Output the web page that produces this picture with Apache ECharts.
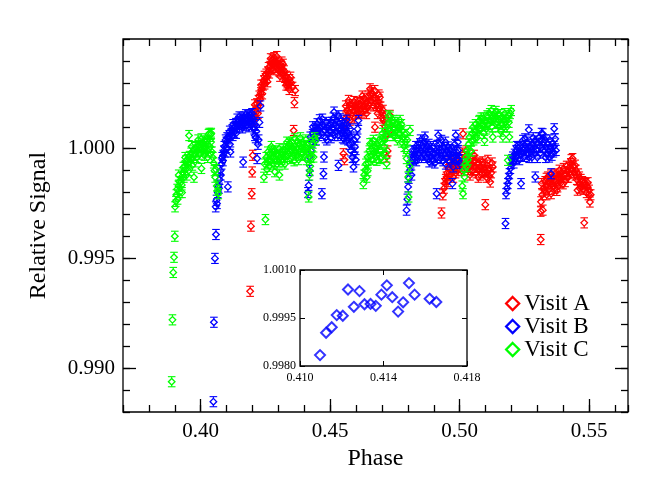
<!DOCTYPE html>
<html>
<head>
<meta charset="utf-8">
<title>Relative Signal vs Phase</title>
<script src="https://cdn.jsdelivr.net/npm/echarts@6/dist/echarts.min.js"></script>
<style>
html, body { margin: 0; padding: 0; background: #fff; }
#chart { width: 665px; height: 490px; }
</style>
</head>
<body>
<div id="chart"></div>
<script>
// Visit A (red) - [phase, relative signal]
const visitA = [
  [0.4191,0.99350],[0.4194,0.99647],[0.4197,0.99795],[0.4199,0.99894],[0.4201,0.99970],
  [0.4205,1.00130],[0.4208,1.00155],[0.4211,1.00175],[0.4214,1.00165],[0.4217,1.00205],[0.4220,1.00190],[0.4223,1.00220],[0.4226,1.00240],[0.4229,1.00225],[0.4232,1.00255],[0.4235,1.00270],[0.4238,1.00250],[0.4241,1.00290],[0.4244,1.00310],[0.4247,1.00295],[0.4250,1.00320],[0.4253,1.00340],[0.4256,1.00325],[0.4259,1.00350],[0.4262,1.00370],[0.4265,1.00345],[0.4268,1.00375],[0.4271,1.00390],[0.4274,1.00365],[0.4277,1.00405],[0.4280,1.00385],[0.4283,1.00415],[0.4286,1.00400],[0.4289,1.00380],[0.4292,1.00395],[0.4295,1.00370],[0.4298,1.00390],[0.4301,1.00355],[0.4304,1.00375],[0.4307,1.00350],[0.4310,1.00380],[0.4313,1.00395],[0.4316,1.00360],[0.4319,1.00340],[0.4322,1.00355],[0.4325,1.00325],[0.4328,1.00310],[0.4331,1.00330],[0.4334,1.00300],[0.4337,1.00290],[0.4340,1.00295],[0.4343,1.00315],[0.4347,1.00326],[0.4350,1.00300],[0.4355,1.00280],[0.4359,1.00083],[0.4362,1.00210],[0.4365,1.00265],
  [0.4209,1.00200],[0.4221,1.00160],[0.4233,1.00290],[0.4246,1.00330],[0.4258,1.00305],[0.4270,1.00410],[0.4282,1.00360],[0.4294,1.00420],[0.4306,1.00330],[0.4318,1.00385],[0.4330,1.00290],[0.4342,1.00270],
  [0.4551,0.99977],[0.4555,0.99950],[0.4558,1.00110],[0.4561,1.00140],[0.4564,1.00174],[0.4567,1.00150],[0.4571,1.00220],[0.4574,1.00165],[0.4577,1.00130],[0.4580,1.00185],[0.4583,1.00155],[0.4586,1.00200],[0.4590,1.00174],[0.4593,1.00140],[0.4596,1.00195],[0.4599,1.00160],[0.4602,1.00185],[0.4605,1.00210],[0.4609,1.00190],[0.4612,1.00160],[0.4615,1.00205],[0.4618,1.00180],[0.4622,1.00167],[0.4625,1.00215],[0.4628,1.00190],[0.4631,1.00230],[0.4634,1.00175],[0.4638,1.00205],[0.4641,1.00212],[0.4644,1.00185],[0.4647,1.00240],[0.4650,1.00200],[0.4654,1.00273],[0.4657,1.00220],[0.4660,1.00255],[0.4664,1.00250],[0.4667,1.00195],[0.4670,1.00230],[0.4673,1.00098],[0.4676,1.00210],[0.4680,1.00197],[0.4683,1.00160],[0.4686,1.00215],[0.4689,1.00180],[0.4692,1.00235],[0.4695,1.00190],[0.4699,1.00167],[0.4702,1.00140],[0.4705,1.00129],[0.4708,1.00150],[0.4712,1.00100],[0.4715,1.00060],[0.4718,0.99962],[0.4722,0.99990],[0.4725,1.00120],[0.4728,1.00080],[0.4731,1.00152],
  [0.4560,1.00195],[0.4575,1.00200],[0.4592,1.00215],[0.4608,1.00165],[0.4624,1.00240],[0.4640,1.00160],[0.4656,1.00245],[0.4672,1.00265],[0.4688,1.00245],[0.4704,1.00175],
  [0.4930,0.99707],[0.4935,0.99790],[0.4940,0.99820],[0.4943,0.99841],[0.4946,0.99860],[0.4949,0.99871],[0.4952,0.99890],[0.4955,0.99850],[0.4958,0.99905],[0.4962,0.99909],[0.4965,0.99880],[0.4968,0.99925],[0.4971,0.99900],[0.4974,0.99935],[0.4978,0.99910],[0.4981,0.99932],[0.4984,0.99890],[0.4987,0.99945],[0.4991,0.99920],[0.4994,0.99902],[0.4997,0.99950],[0.5000,0.99925],[0.5003,0.99960],[0.5007,0.99935],[0.5010,0.99980],[0.5013,1.00068],[0.5016,0.99950],[0.5019,0.99920],[0.5023,0.99965],[0.5026,0.99962],[0.5029,0.99940],[0.5032,0.99915],[0.5035,0.99950],[0.5038,0.99932],[0.5042,0.99905],[0.5045,0.99955],[0.5048,0.99930],[0.5051,0.99900],[0.5055,0.99940],[0.5058,0.99947],[0.5061,0.99915],[0.5064,0.99890],[0.5067,0.99930],[0.5071,0.99905],[0.5074,0.99935],[0.5077,0.99917],[0.5080,0.99880],[0.5083,0.99915],[0.5087,0.99890],[0.5090,0.99930],[0.5093,0.99895],[0.5096,0.99902],[0.5099,0.99745],[0.5103,0.99870],[0.5106,0.99925],[0.5109,0.99947],[0.5112,0.99900],[0.5115,0.99875],[0.5118,0.99848],[0.5122,0.99890],[0.5125,0.99935],[0.5128,0.99917],
  [0.4960,0.99940],[0.4976,0.99870],[0.4992,0.99955],[0.5008,0.99900],[0.5024,0.99990],[0.5040,0.99880],[0.5056,0.99970],[0.5072,0.99870],[0.5088,0.99940],[0.5104,0.99895],
  [0.5313,0.99586],[0.5313,0.99715],[0.5314,0.99758],[0.5317,0.99841],[0.5319,0.99790],[0.5321,0.99720],[0.5324,0.99820],[0.5327,0.99811],[0.5330,0.99850],[0.5333,0.99830],[0.5336,0.99790],[0.5340,0.99871],[0.5343,0.99845],[0.5346,0.99815],[0.5349,0.99860],[0.5353,0.99795],[0.5356,0.99840],[0.5359,0.99870],[0.5362,0.99830],[0.5365,0.99856],[0.5368,0.99885],[0.5372,0.99850],[0.5375,0.99810],[0.5378,0.99826],[0.5381,0.99865],[0.5385,0.99902],[0.5388,0.99870],[0.5391,0.99845],[0.5394,0.99890],[0.5397,0.99871],[0.5401,0.99910],[0.5404,0.99880],[0.5407,0.99850],[0.5410,0.99886],[0.5413,0.99920],[0.5417,0.99895],[0.5420,0.99870],[0.5423,0.99915],[0.5426,0.99890],[0.5429,0.99932],[0.5433,0.99905],[0.5436,0.99955],[0.5439,0.99920],[0.5442,0.99890],[0.5446,0.99925],[0.5449,0.99902],[0.5452,0.99860],[0.5455,0.99811],[0.5458,0.99885],[0.5462,0.99871],[0.5465,0.99840],[0.5468,0.99860],[0.5471,0.99825],[0.5474,0.99850],[0.5478,0.99815],[0.5481,0.99662],[0.5484,0.99835],[0.5487,0.99841],[0.5490,0.99800],[0.5494,0.99825],[0.5497,0.99790],[0.5500,0.99811],[0.5503,0.99757],[0.5506,0.99790],
  [0.5335,0.99865],[0.5352,0.99880],[0.5367,0.99820],[0.5383,0.99880],[0.5399,0.99840],[0.5415,0.99870],[0.5431,0.99950],[0.5447,0.99880],[0.5463,0.99820],[0.5479,0.99845],[0.5495,0.99845]
];

// Visit B (blue)
const visitB = [
  [0.4049,0.98847],[0.4051,0.99209],[0.4055,0.99500],[0.4059,0.99609],
  [0.4058,0.99735],[0.4061,0.99765],[0.4063,0.99750],[0.4066,0.99800],[0.4068,0.99830],[0.4071,0.99820],[0.4073,0.99860],[0.4076,0.99900],[0.4078,0.99880],[0.4081,0.99930],[0.4083,0.99960],[0.4086,0.99945],[0.4089,0.99990],[0.4091,1.00010],[0.4094,0.99985],[0.4096,1.00040],[0.4099,1.00030],[0.4102,1.00050],[0.4105,0.99826],[0.4107,1.00045],[0.4110,1.00060],[0.4113,1.00020],[0.4115,0.99985],[0.4118,1.00070],[0.4121,1.00085],[0.4124,1.00060],[0.4127,1.00095],[0.4130,1.00075],[0.4133,1.00100],[0.4136,1.00115],[0.4139,1.00095],[0.4141,1.00135],[0.4144,1.00110],[0.4147,1.00125],[0.4150,1.00100],[0.4153,1.00120],[0.4156,1.00140],[0.4159,1.00110],[0.4162,1.00130],[0.4164,0.99939],[0.4167,1.00145],[0.4170,1.00115],[0.4173,1.00135],[0.4176,1.00105],[0.4179,1.00130],[0.4182,1.00150],[0.4185,1.00120],[0.4188,1.00140],[0.4191,1.00155],[0.4194,1.00125],[0.4197,1.00145],[0.4200,1.00110],[0.4203,1.00135],[0.4206,1.00090],[0.4209,1.00060],[0.4212,1.00050],[0.4215,1.00080],[0.4218,0.99955],[0.4221,1.00020],[0.4224,1.00040],[0.4227,1.00120],[0.4231,1.00195],
  [0.4087,0.99970],[0.4100,1.00005],[0.4112,1.00080],[0.4125,1.00110],[0.4137,1.00070],[0.4149,1.00145],[0.4161,1.00095],[0.4174,1.00155],[0.4186,1.00100],[0.4198,1.00160],[0.4210,1.00110],
  [0.4414,0.99800],[0.4417,0.99833],[0.4419,0.99962],[0.4421,0.99900],[0.4423,1.00053],[0.4426,0.99990],[0.4429,1.00030],[0.4432,1.00065],[0.4435,1.00040],[0.4438,1.00083],[0.4441,1.00060],[0.4444,1.00100],[0.4447,1.00075],[0.4450,1.00114],[0.4453,1.00090],[0.4456,1.00060],[0.4459,1.00132],[0.4462,1.00095],[0.4465,1.00070],[0.4468,0.99795],[0.4471,1.00110],[0.4474,0.99886],[0.4476,0.99962],[0.4479,1.00085],[0.4482,1.00050],[0.4485,1.00120],[0.4488,1.00098],[0.4491,1.00065],[0.4494,1.00105],[0.4497,1.00080],[0.4500,1.00083],[0.4503,1.00050],[0.4506,1.00120],[0.4509,1.00095],[0.4512,1.00140],[0.4515,1.00167],[0.4518,1.00110],[0.4521,1.00075],[0.4524,1.00130],[0.4527,1.00100],[0.4530,1.00060],[0.4532,0.99924],[0.4535,1.00115],[0.4538,1.00136],[0.4541,1.00090],[0.4544,1.00070],[0.4547,1.00105],[0.4550,1.00083],[0.4553,1.00045],[0.4556,1.00095],[0.4559,1.00060],[0.4562,1.00114],[0.4565,1.00080],[0.4568,1.00040],[0.4571,1.00070],[0.4574,1.00020],[0.4577,1.00053],[0.4580,0.99990],[0.4583,1.00030],[0.4586,0.99960],[0.4590,0.99917],[0.4593,0.99980],[0.4596,1.00008],[0.4599,0.99950],[0.4603,1.00053],[0.4606,1.00090],[0.4609,1.00129],
  [0.4433,1.00100],[0.4446,1.00040],[0.4458,1.00085],[0.4470,1.00135],[0.4487,1.00040],[0.4502,1.00110],[0.4517,1.00060],[0.4533,1.00150],[0.4548,1.00050],[0.4563,1.00130],[0.4578,1.00090],[0.4594,1.00040],
  [0.4795,0.99720],[0.4798,0.99770],[0.4801,0.99826],[0.4804,0.99865],[0.4808,0.99902],[0.4811,0.99935],[0.4814,0.99880],[0.4818,0.99950],[0.4821,0.99962],[0.4824,0.99990],[0.4827,0.99955],[0.4831,1.00010],[0.4834,0.99992],[0.4837,0.99960],[0.4840,1.00005],[0.4843,0.99980],[0.4846,1.00023],[0.4850,0.99990],[0.4853,0.99960],[0.4856,1.00015],[0.4859,0.99975],[0.4863,1.00035],[0.4866,1.00053],[0.4869,0.99995],[0.4872,0.99960],[0.4875,1.00010],[0.4878,0.99977],[0.4882,0.99940],[0.4885,1.00000],[0.4888,0.99965],[0.4891,0.99992],[0.4894,0.99950],[0.4898,1.00010],[0.4901,0.99975],[0.4904,0.99935],[0.4907,0.99990],[0.4911,0.99795],[0.4914,0.99960],[0.4917,1.00061],[0.4920,0.99985],[0.4923,1.00020],[0.4927,0.99955],[0.4930,1.00038],[0.4933,0.99990],[0.4936,0.99945],[0.4940,1.00005],[0.4943,0.99977],[0.4946,0.99930],[0.4949,0.99990],[0.4952,0.99960],[0.4956,1.00008],[0.4959,0.99975],[0.4962,0.99940],[0.4965,0.99995],[0.4968,0.99960],[0.4972,0.99841],[0.4975,0.99917],[0.4978,0.99960],[0.4981,1.00020],[0.4985,1.00061],[0.4988,0.99985],[0.4991,0.99955],[0.4994,0.99992],[0.4997,0.99950],[0.5000,0.99932],
  [0.4816,0.99990],[0.4833,0.99945],[0.4849,1.00040],[0.4865,0.99970],[0.4881,1.00020],[0.4897,0.99945],[0.4913,1.00015],[0.4929,0.99970],[0.4945,1.00030],[0.4961,0.99995],[0.4977,0.99990],[0.4993,1.00030],
  [0.5177,0.99659],[0.5179,0.99795],[0.5183,0.99820],[0.5186,0.99841],[0.5189,0.99865],[0.5192,0.99886],[0.5196,0.99910],[0.5199,0.99932],[0.5202,0.99950],[0.5205,0.99962],[0.5209,0.99935],[0.5212,0.99975],[0.5215,0.99955],[0.5218,0.99992],[0.5221,0.99965],[0.5225,1.00005],[0.5228,0.99980],[0.5231,0.99950],[0.5234,1.00010],[0.5237,0.99841],[0.5241,0.99985],[0.5244,1.00038],[0.5247,0.99995],[0.5250,0.99965],[0.5253,1.00015],[0.5256,0.99992],[0.5260,1.00030],[0.5263,0.99975],[0.5267,1.00086],[0.5270,1.00010],[0.5273,0.99985],[0.5276,1.00008],[0.5279,0.99960],[0.5282,1.00020],[0.5285,0.99990],[0.5289,1.00035],[0.5292,0.99871],[0.5295,0.99995],[0.5298,1.00025],[0.5301,0.99992],[0.5305,1.00050],[0.5308,1.00010],[0.5311,0.99980],[0.5314,1.00038],[0.5318,1.00005],[0.5321,1.00068],[0.5324,1.00030],[0.5327,0.99990],[0.5330,1.00040],[0.5333,1.00008],[0.5337,0.99975],[0.5340,1.00020],[0.5343,0.99990],[0.5346,0.99962],[0.5350,1.00010],[0.5353,0.99886],[0.5356,0.99970],[0.5359,1.00025],[0.5362,0.99985],[0.5365,1.00091],[0.5369,1.00045],[0.5372,0.99992],
  [0.5220,1.00010],[0.5236,0.99970],[0.5252,1.00045],[0.5268,0.99960],[0.5284,1.00050],[0.5300,0.99960],[0.5316,1.00070],[0.5332,0.99960],[0.5348,1.00040],[0.5364,1.00010]
];

// Visit C (green)
const visitC = [
  [0.3888,0.98938],[0.3891,0.99220],[0.3894,0.99436],[0.3897,0.99505],[0.3900,0.99601],
  [0.3901,0.99735],[0.3904,0.99760],[0.3906,0.99790],[0.3909,0.99815],[0.3911,0.99770],[0.3914,0.99830],[0.3917,0.99850],[0.3919,0.99800],[0.3922,0.99845],[0.3925,0.99870],[0.3927,0.99835],[0.3930,0.99890],[0.3933,0.99915],[0.3935,0.99870],[0.3938,0.99920],[0.3941,0.99905],[0.3943,0.99945],[0.3946,0.99880],[0.3949,0.99950],[0.3952,0.99935],[0.3955,1.00060],[0.3957,0.99965],[0.3960,0.99940],[0.3963,0.99980],[0.3966,0.99960],[0.3968,0.99925],[0.3971,0.99990],[0.3974,0.99870],[0.3976,0.99970],[0.3979,1.00005],[0.3982,0.99985],[0.3985,0.99960],[0.3987,1.00010],[0.3990,0.99990],[0.3993,1.00015],[0.3996,0.99975],[0.3998,1.00005],[0.4001,0.99995],[0.4003,0.99910],[0.4006,1.00025],[0.4009,0.99990],[0.4011,1.00010],[0.4014,0.99970],[0.4017,1.00000],[0.4019,1.00030],[0.4022,0.99985],[0.4025,1.00035],[0.4028,0.99990],[0.4030,1.00065],[0.4033,1.00070],[0.4036,1.00010],[0.4039,1.00065],[0.4041,1.00070],[0.4044,0.99985],[0.4047,0.99960],[0.4050,0.99935],[0.4053,0.99900],[0.4056,0.99870],[0.4059,0.99905],[0.4062,0.99830],[0.4065,0.99810],[0.4068,0.99795],
  [0.3915,0.99880],[0.3928,0.99800],[0.3940,0.99960],[0.3953,0.99900],[0.3965,1.00010],[0.3978,0.99940],[0.3990,1.00040],[0.4002,1.00045],[0.4015,1.00035],[0.4027,0.99960],[0.4040,1.00030],
  [0.4244,0.99870],[0.4247,0.99930],[0.4250,0.99677],[0.4253,0.99960],[0.4256,0.99905],[0.4259,0.99985],[0.4262,0.99950],[0.4265,0.99920],[0.4268,0.99975],[0.4271,0.99945],[0.4274,0.99990],[0.4277,0.99960],[0.4280,0.99930],[0.4283,0.99985],[0.4286,0.99895],[0.4289,0.99955],[0.4292,0.99975],[0.4295,0.99930],[0.4298,0.99965],[0.4301,0.99940],[0.4304,0.99880],[0.4307,0.99960],[0.4310,0.99985],[0.4313,0.99950],[0.4316,0.99975],[0.4319,0.99995],[0.4322,0.99960],[0.4325,0.99930],[0.4328,0.99975],[0.4331,1.00000],[0.4334,0.99965],[0.4337,1.00010],[0.4340,0.99980],[0.4343,1.00025],[0.4346,1.00020],[0.4349,0.99990],[0.4352,1.00030],[0.4355,0.99960],[0.4358,1.00000],[0.4361,0.99945],[0.4364,1.00015],[0.4367,0.99985],[0.4370,1.00000],[0.4373,1.00035],[0.4376,0.99970],[0.4379,1.00020],[0.4382,0.99990],[0.4385,1.00050],[0.4388,1.00010],[0.4391,0.99975],[0.4394,1.00030],[0.4397,0.99995],[0.4400,1.00010],[0.4403,0.99970],[0.4406,1.00040],[0.4409,0.99950],[0.4412,1.00015],[0.4415,0.99985],[0.4417,0.99780],[0.4420,0.99880],[0.4423,0.99920],[0.4426,0.99960],[0.4430,0.99990],[0.4433,1.00025],[0.4436,0.99962],[0.4440,1.00050],[0.4443,1.00038],
  [0.4258,0.99935],[0.4273,1.00010],[0.4288,0.99990],[0.4303,1.00000],[0.4318,0.99940],[0.4333,1.00030],[0.4348,0.99955],[0.4363,1.00045],[0.4378,0.99950],[0.4393,0.99975],[0.4408,1.00005],
  [0.4628,0.99841],[0.4631,0.99880],[0.4635,0.99902],[0.4638,0.99930],[0.4641,0.99870],[0.4644,0.99962],[0.4647,0.99935],[0.4651,0.99990],[0.4654,1.00023],[0.4657,0.99965],[0.4660,1.00000],[0.4664,0.99950],[0.4667,1.00038],[0.4670,0.99985],[0.4673,1.00010],[0.4677,0.99960],[0.4680,0.99947],[0.4683,1.00020],[0.4686,0.99975],[0.4689,1.00040],[0.4692,0.99992],[0.4696,1.00030],[0.4699,0.99960],[0.4702,1.00070],[0.4705,1.00053],[0.4708,1.00010],[0.4712,1.00085],[0.4715,0.99980],[0.4718,0.99932],[0.4721,1.00060],[0.4725,1.00114],[0.4728,1.00090],[0.4731,1.00144],[0.4734,1.00105],[0.4738,1.00075],[0.4741,1.00120],[0.4744,1.00129],[0.4747,1.00090],[0.4750,1.00060],[0.4754,1.00110],[0.4757,1.00083],[0.4760,1.00040],[0.4763,1.00100],[0.4767,1.00070],[0.4770,1.00129],[0.4773,1.00095],[0.4776,1.00030],[0.4779,1.00080],[0.4782,1.00053],[0.4786,1.00010],[0.4789,1.00065],[0.4792,0.99990],[0.4795,0.99955],[0.4798,1.00040],[0.4801,0.99871],[0.4803,0.99780],[0.4806,0.99920],[0.4808,1.00083],
  [0.4645,0.99900],[0.4662,1.00025],[0.4678,1.00000],[0.4694,0.99955],[0.4710,1.00040],[0.4726,1.00150],[0.4743,1.00060],[0.4759,1.00120],[0.4775,1.00110],[0.4791,1.00030],
  [0.5010,0.99830],[0.5013,0.99795],[0.5016,0.99902],[0.5019,0.99871],[0.5022,0.99930],[0.5026,0.99962],[0.5029,0.99992],[0.5032,0.99950],[0.5035,1.00020],[0.5038,1.00053],[0.5041,0.99990],[0.5045,1.00035],[0.5048,1.00070],[0.5051,1.00098],[0.5054,1.00040],[0.5058,1.00075],[0.5061,1.00110],[0.5064,1.00083],[0.5067,1.00050],[0.5070,1.00100],[0.5074,1.00125],[0.5077,1.00129],[0.5080,1.00090],[0.5083,1.00140],[0.5087,1.00105],[0.5090,1.00114],[0.5093,1.00070],[0.5096,1.00038],[0.5100,1.00120],[0.5103,1.00090],[0.5106,1.00150],[0.5109,1.00144],[0.5112,1.00110],[0.5116,1.00160],[0.5119,1.00130],[0.5122,1.00174],[0.5125,1.00100],[0.5128,1.00053],[0.5132,1.00135],[0.5135,1.00160],[0.5138,1.00115],[0.5141,1.00144],[0.5145,1.00120],[0.5148,1.00155],[0.5151,1.00100],[0.5154,1.00129],[0.5158,1.00080],[0.5161,1.00140],[0.5164,1.00110],[0.5167,1.00053],[0.5170,1.00130],[0.5174,1.00160],[0.5177,1.00120],[0.5179,1.00144],[0.5183,1.00100],[0.5186,0.99947],[0.5189,1.00150],[0.5192,1.00053],[0.5195,1.00160],[0.5199,1.00174],
  [0.5028,0.99920],[0.5044,0.99990],[0.5060,1.00050],[0.5076,1.00090],[0.5092,1.00140],[0.5108,1.00110],[0.5124,1.00140],[0.5140,1.00170],[0.5156,1.00155],[0.5172,1.00100],[0.5190,1.00120]
];

// inset (zoom on start of visit B)
const insetPhase  = [0.41096,0.41125,0.41152,0.41176,0.41205,0.41230,0.41258,0.41285,0.41309,0.41338,0.41363,0.41390,0.41416,0.41442,0.41470,0.41494,0.41522,0.41549,0.41621,0.41653];
const insetSignal = [0.99834,0.99904,0.99921,0.99959,0.99957,1.00039,0.99985,1.00034,0.99993,0.99994,0.99988,1.00023,1.00052,1.00015,0.99970,0.99999,1.00059,1.00023,1.00010,1.00000];

const errSize = 0.00023;
const xMajor = [0.40, 0.45, 0.50, 0.55];
const yMajor = [0.990, 0.995, 1.000];
const insetXTicks = [0.410, 0.414, 0.418];
const insetYTicks = [0.9980, 0.9995, 1.0010];

const FONT = "'Liberation Serif', 'DejaVu Serif', serif";

// error bar + open diamond
const errRender = (color) => (params, api) => {
  const x = api.value(0), y = api.value(1);
  const c = api.coord([x, y]);
  const top = api.coord([x, y + errSize])[1];
  const bot = api.coord([x, y - errSize])[1];
  const r = 3.3, cap = 3.8;
  const ls = { stroke: color, lineWidth: 1.1, fill: 'none' };
  return {
    type: 'group',
    children: [
      { type: 'line', shape: { x1: c[0], y1: top, x2: c[0], y2: c[1] - r }, style: ls },
      { type: 'line', shape: { x1: c[0], y1: c[1] + r, x2: c[0], y2: bot }, style: ls },
      { type: 'line', shape: { x1: c[0] - cap, y1: top, x2: c[0] + cap, y2: top }, style: ls },
      { type: 'line', shape: { x1: c[0] - cap, y1: bot, x2: c[0] + cap, y2: bot }, style: ls },
      { type: 'polygon', shape: { points: [[c[0], c[1] - r], [c[0] + r, c[1]], [c[0], c[1] + r], [c[0] - r, c[1]]] },
        style: { stroke: color, lineWidth: 1.3, fill: 'none' } }
    ]
  };
};

const tickStyle = { color: '#000', width: 1.3 };

const mainX = (pos, major, withLabel) => ({
  type: 'value', gridIndex: 0, min: 0.37, max: 0.565, position: pos,
  interval: major ? undefined : 0.01,
  axisLine: { show: false }, splitLine: { show: false },
  axisTick: major ? { inside: true, length: 13, customValues: xMajor, lineStyle: tickStyle }
                  : { inside: true, length: 7, lineStyle: tickStyle },
  axisLabel: withLabel ? { customValues: xMajor, formatter: v => v.toFixed(2), margin: 9,
                           fontFamily: FONT, fontSize: 21, color: '#000' } : { show: false },
  name: withLabel ? 'Phase' : '', nameLocation: 'middle', nameGap: 35,
  nameTextStyle: { fontFamily: FONT, fontSize: 24, color: '#000' }
});

const mainY = (pos, major, withLabel) => ({
  type: 'value', gridIndex: 0, min: 0.988, max: 1.005, position: pos,
  interval: major ? undefined : 0.001,
  axisLine: { show: false }, splitLine: { show: false },
  axisTick: major ? { inside: true, length: 13, customValues: yMajor, lineStyle: tickStyle }
                  : { inside: true, length: 7, lineStyle: tickStyle },
  axisLabel: withLabel ? { customValues: yMajor, formatter: v => v.toFixed(3), margin: 8,
                           fontFamily: FONT, fontSize: 21, color: '#000' } : { show: false },
  name: withLabel ? 'Relative Signal' : '', nameLocation: 'middle', nameGap: 72,
  nameTextStyle: { fontFamily: FONT, fontSize: 24, color: '#000' }
});

const insetX = (pos, withLabel) => ({
  type: 'value', gridIndex: 1, min: 0.410, max: 0.418, position: pos,
  axisLine: { show: false }, splitLine: { show: false },
  axisTick: { inside: true, length: 5, customValues: insetXTicks, lineStyle: { color: '#000', width: 1 } },
  axisLabel: withLabel ? { customValues: insetXTicks, formatter: v => v.toFixed(3), margin: 6,
                           fontFamily: FONT, fontSize: 12, color: '#000' } : { show: false }
});

const insetY = (pos, withLabel) => ({
  type: 'value', gridIndex: 1, min: 0.998, max: 1.001, position: pos,
  axisLine: { show: false }, splitLine: { show: false },
  axisTick: { inside: true, length: 5, customValues: insetYTicks, lineStyle: { color: '#000', width: 1 } },
  axisLabel: withLabel ? { customValues: insetYTicks, formatter: v => v.toFixed(4), margin: 4,
                           fontFamily: FONT, fontSize: 12, color: '#000' } : { show: false }
});

const visits = [
  { name: 'Visit A', color: '#ff0000', data: visitA },
  { name: 'Visit B', color: '#0000ff', data: visitB },
  { name: 'Visit C', color: '#00ff00', data: visitC }
];

const chart = echarts.init(document.getElementById('chart'), null, { renderer: 'canvas' });

chart.setOption({
  animation: false,
  backgroundColor: '#fff',
  grid: [
    { left: 123, top: 39, width: 505, height: 373, show: true, borderColor: '#000', borderWidth: 1.3, backgroundColor: 'transparent' },
    { left: 300, top: 270, width: 167, height: 96, show: true, borderColor: '#000', borderWidth: 1.3, backgroundColor: '#fff' }
  ],
  xAxis: [
    mainX('bottom', true, true),
    mainX('bottom', false, false),
    mainX('top', true, false),
    mainX('top', false, false),
    insetX('bottom', true),
    insetX('top', false)
  ],
  yAxis: [
    mainY('left', true, true),
    mainY('left', false, false),
    mainY('right', true, false),
    mainY('right', false, false),
    insetY('left', true),
    insetY('right', false)
  ],
  legend: {
    orient: 'vertical', left: 500, top: 287, itemWidth: 13, itemHeight: 13, itemGap: 0,
    selectedMode: false,
    textStyle: { fontFamily: FONT, fontSize: 23, color: '#000', lineHeight: 22 },
    data: visits.map(v => ({
      name: v.name, icon: 'diamond',
      itemStyle: { color: 'rgba(0,0,0,0)', borderColor: v.color, borderWidth: 2.3 }
    }))
  },
  series: visits.map(v => ({
    name: v.name,
    type: 'custom',
    xAxisIndex: 0, yAxisIndex: 0,
    silent: true,
    itemStyle: { color: v.color },
    encode: { x: 0, y: 1 },
    renderItem: errRender(v.color),
    data: v.data
  })).concat([{
    name: 'inset',
    type: 'scatter',
    xAxisIndex: 4, yAxisIndex: 4,
    symbol: 'diamond', symbolSize: 10,
    silent: true,
    itemStyle: { color: 'rgba(0,0,0,0)', borderColor: '#0000ff', borderWidth: 2 },
    data: insetPhase.map((p, i) => [p, insetSignal[i]])
  }])
});
</script>
</body>
</html>
